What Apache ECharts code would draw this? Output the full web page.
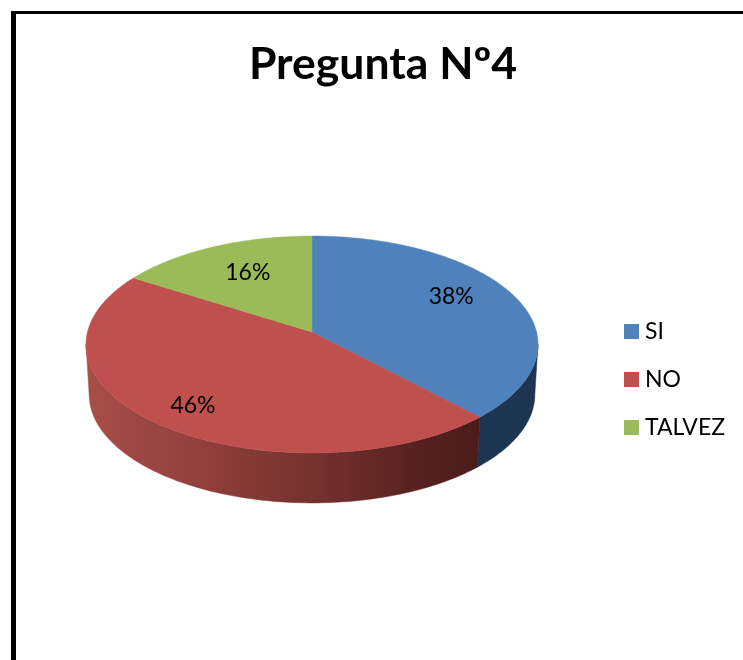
<!DOCTYPE html>
<html>
<head>
<meta charset="utf-8">
<title>Pregunta Nº4</title>
<style>
  html, body { margin: 0; padding: 0; background: #fff; }
  #chart { width: 743px; height: 660px; }
</style>
</head>
<body>
<div id="chart"></div>
<script src="https://cdn.jsdelivr.net/npm/echarts@6/dist/echarts.min.js"></script>
<script>
const titleText = 'Pregunta Nº4';
const categories = ['SI', 'NO', 'TALVEZ'];
const values = [38, 46, 16];

const topColors = ['#4f81bd', '#c0504d', '#9bbb59'];
// labels sit this far from the rim point at the middle of their slice
const labelOffsets = [[-61, 2], [38, -17], [34, 26]];
const fontName = 'Lato, "Open Sans", sans-serif';

// perspective disc: the slices meet at (cx, cy), which is above the middle of the ellipse
const cx = 312, cy = 332;
const radiusX = 224.5, radiusY = 107, tilt = 0.1152;
const depth = 50, bottomShrink = 0.986;
// only this part of the rim faces the viewer
const wallStart = Math.acos(-tilt), wallEnd = Math.PI * 2 - wallStart;

const total = values.reduce((a, b) => a + b, 0);

function project(angle) {
    const u = Math.sin(angle);
    const v = -Math.cos(angle);
    const d = 1 - tilt * v;
    return [cx + radiusX * u / d, cy + radiusY * v / d];
}

function arcPoints(a0, a1) {
    const pts = [];
    const steps = Math.max(2, Math.ceil((a1 - a0) / (Math.PI / 180)));
    for (let i = 0; i <= steps; i++) {
        pts.push(project(a0 + (a1 - a0) * i / steps));
    }
    return pts;
}

function wallFill(idx) {
    if (idx === 1) {
        return new echarts.graphic.LinearGradient(86, 0, 480, 0, [
            { offset: 0, color: '#a84e49' },
            { offset: 0.3, color: '#903f3b' },
            { offset: 0.6, color: '#72302e' },
            { offset: 0.85, color: '#562120' },
            { offset: 1, color: '#4a1c1a' }
        ], true);
    }
    return idx === 0 ? '#1e3552' : '#5d7135';
}

function sliceRender(idx) {
    return function (params, api) {
        let before = 0;
        for (let i = 0; i < idx; i++) before += values[i];
        const a0 = before / total * Math.PI * 2;
        const a1 = (before + api.value(0)) / total * Math.PI * 2;
        const labelPos = project((a0 + a1) / 2);
        const children = [
            {
                type: 'polygon',
                z2: 2,
                shape: { points: [[cx, cy]].concat(arcPoints(a0, a1)) },
                style: { fill: topColors[idx], stroke: topColors[idx], lineWidth: 0.5 }
            },
            {
                type: 'text',
                z2: 3,
                x: labelPos[0] + labelOffsets[idx][0],
                y: labelPos[1] + labelOffsets[idx][1],
                style: {
                    text: api.value(0) + '%',
                    font: '23px ' + fontName,
                    fill: '#000',
                    align: 'center',
                    verticalAlign: 'middle'
                }
            }
        ];
        const w0 = Math.max(a0, wallStart), w1 = Math.min(a1, wallEnd);
        if (w1 > w0) {
            const arc = arcPoints(w0, w1);
            const lower = arc.map(p => [cx + (p[0] - cx) * bottomShrink, p[1] + depth]).reverse();
            const wall = wallFill(idx);
            children.push({
                type: 'polygon',
                z2: 1,
                shape: { points: arc.concat(lower) },
                style: { fill: wall, stroke: wall, lineWidth: 0.5 }
            });
        }
        return { type: 'group', children: children };
    };
}

const chart = echarts.init(document.getElementById('chart'), null, { renderer: 'canvas' });
chart.setOption({
    animation: false,
    backgroundColor: '#fff',
    title: {
        text: titleText,
        left: 383,
        top: 42,
        padding: 0,
        textAlign: 'center',
        textStyle: { fontFamily: fontName, fontSize: 44.5, fontWeight: 'bold', color: '#000' }
    },
    legend: {
        orient: 'vertical',
        left: 624,
        top: 320,
        padding: 0,
        icon: 'rect',
        itemWidth: 15,
        itemHeight: 15,
        itemGap: 25,
        data: categories,
        textStyle: { fontFamily: fontName, fontSize: 23, color: '#000', padding: [0, 0, 0, 1] }
    },
    graphic: [
        { type: 'rect', shape: { x: 11, y: 11, width: 5, height: 649 }, style: { fill: '#000' } },
        { type: 'rect', shape: { x: 11, y: 11, width: 732, height: 3 }, style: { fill: '#000' } }
    ],
    series: categories.map((name, idx) => ({
        type: 'custom',
        name: name,
        coordinateSystem: 'none',
        itemStyle: { color: topColors[idx] },
        renderItem: sliceRender(idx),
        data: [[values[idx]]]
    }))
});
</script>
</body>
</html>
